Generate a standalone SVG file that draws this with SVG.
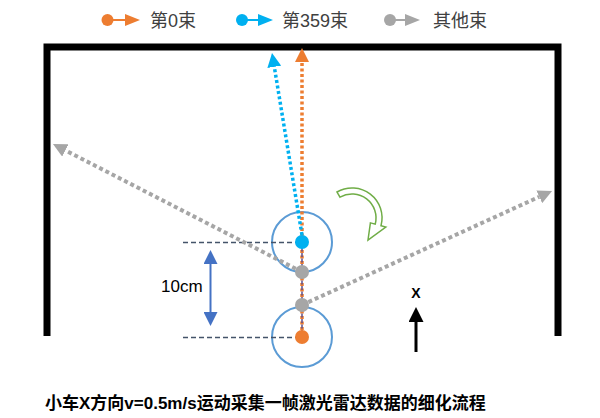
<svg xmlns="http://www.w3.org/2000/svg" width="600" height="418" viewBox="0 0 600 418">
<style>
.txt{font-family:"Liberation Sans","Noto Sans CJK SC",sans-serif;}
.leg{font-size:18px;fill:#404040;}
.ring{fill:none;stroke:#5B9BD5;stroke-width:2;}
.hd{stroke:#44546A;stroke-width:1.3;stroke-dasharray:5 3;fill:none;}
.dotO{stroke:#ED7D31;stroke-width:3.5;stroke-dasharray:3 2.5;fill:none;}
.dotB{stroke:#00B0F0;stroke-width:3.5;stroke-dasharray:3 2.5;fill:none;}
.dotG{stroke:#A6A6A6;stroke-width:4;stroke-dasharray:4 3;fill:none;}
</style>
<defs>
<marker id="aO" viewBox="0 0 14 14" refX="0" refY="7" markerWidth="14" markerHeight="14" markerUnits="userSpaceOnUse" orient="auto"><path d="M0,0 L14,7 L0,14 Z" fill="#ED7D31"/></marker>
<marker id="aB" viewBox="0 0 14 14" refX="0" refY="7" markerWidth="14" markerHeight="14" markerUnits="userSpaceOnUse" orient="auto"><path d="M0,0 L14,7 L0,14 Z" fill="#00B0F0"/></marker>
<marker id="aG" viewBox="0 0 14 14" refX="0" refY="7" markerWidth="14" markerHeight="14" markerUnits="userSpaceOnUse" orient="auto"><path d="M0,0 L14,7 L0,14 Z" fill="#A6A6A6"/></marker>
<marker id="aD" viewBox="0 0 14 14" refX="0" refY="7" markerWidth="14" markerHeight="14" markerUnits="userSpaceOnUse" orient="auto-start-reverse"><path d="M0,0 L14,7 L0,14 Z" fill="#4472C4"/></marker>
<marker id="aK" viewBox="0 0 14 14" refX="0" refY="7" markerWidth="15" markerHeight="15" markerUnits="userSpaceOnUse" orient="auto"><path d="M0,0 L14,7 L0,14 Z" fill="#000"/></marker>
</defs>

<g id="legend">
<g id="legend-0">
<line x1="112" y1="20" x2="126" y2="20" stroke="#ED7D31" stroke-width="2"/>
<circle cx="107.5" cy="20" r="6" fill="#ED7D31"/>
<path d="M125,14 L140,20 L125,26 Z" fill="#ED7D31"/>
<text class="txt leg" x="150" y="26.5">第0束</text>
</g>
<g id="legend-359">
<line x1="247" y1="20" x2="259" y2="20" stroke="#00B0F0" stroke-width="2"/>
<circle cx="242" cy="20" r="6" fill="#00B0F0"/>
<path d="M258,14 L273,20 L258,26 Z" fill="#00B0F0"/>
<text class="txt leg" x="282" y="26.5">第359束</text>
</g>
<g id="legend-other">
<line x1="395" y1="20" x2="406" y2="20" stroke="#A6A6A6" stroke-width="2"/>
<circle cx="390" cy="20" r="6" fill="#A6A6A6"/>
<path d="M405,14 L420,20 L405,26 Z" fill="#A6A6A6"/>
<text class="txt leg" x="433" y="26.5">其他束</text>
</g>
</g>

<g id="walls">
<polyline points="47,336 47,47 558,47 558,336" fill="none" stroke="#000" stroke-width="7" stroke-linejoin="miter"/>
</g>

<g id="car-top"><circle class="ring" cx="302" cy="242" r="30"/></g>
<g id="car-bottom"><circle class="ring" cx="302" cy="337" r="30"/></g>

<g id="connectors">
<line class="hd" x1="183" y1="242.5" x2="296" y2="242.5"/>
<line class="hd" x1="183" y1="337.5" x2="296" y2="337.5"/>
<line x1="210.5" y1="264" x2="210.5" y2="312" stroke="#4472C4" stroke-width="2" marker-start="url(#aD)" marker-end="url(#aD)"/>
<line class="dotO" x1="302" y1="330" x2="302" y2="62" marker-end="url(#aO)"/>
<line class="dotB" x1="302" y1="235" x2="274.3" y2="66.8" marker-end="url(#aB)"/>
<line class="dotG" x1="302" y1="272" x2="65.4" y2="150.4" marker-end="url(#aG)"/>
<line class="dotG" x1="302" y1="305" x2="539.3" y2="196.8" marker-end="url(#aG)"/>
<line x1="302" y1="242" x2="302" y2="337" stroke="#5B4F8C" stroke-width="1.5" stroke-dasharray="4 1.5"/>
<line x1="416" y1="352" x2="416" y2="322" stroke="#000" stroke-width="3" marker-end="url(#aK)"/>
</g>

<g id="beam-points">
<circle cx="302" cy="242" r="7" fill="#00B0F0"/>
<circle cx="302" cy="272" r="7" fill="#A6A6A6"/>
<circle cx="302" cy="305" r="7" fill="#A6A6A6"/>
<circle cx="302" cy="337" r="7" fill="#ED7D31"/>
</g>

<g id="rotation">
<path d="M337,192 A30,30 0 0 1 381,225.8 L385.8,227.1 L368,240 L370.4,222.9 L375.2,224.2 A24,24 0 0 0 340,197.2 Z" fill="#fff" stroke="#70AD47" stroke-width="1.5" stroke-linejoin="miter"/>
</g>

<g id="labels">
<text class="txt" x="161" y="292" font-size="17" fill="#000">10cm</text>
<text class="txt" x="416" y="298" font-size="14" font-weight="bold" text-anchor="middle" fill="#000">X</text>
<text class="txt" x="45" y="409" font-size="17" font-weight="bold" fill="#000">小车X方向v=0.5m/s运动采集一帧激光雷达数据的细化流程</text>
</g>
</svg>
